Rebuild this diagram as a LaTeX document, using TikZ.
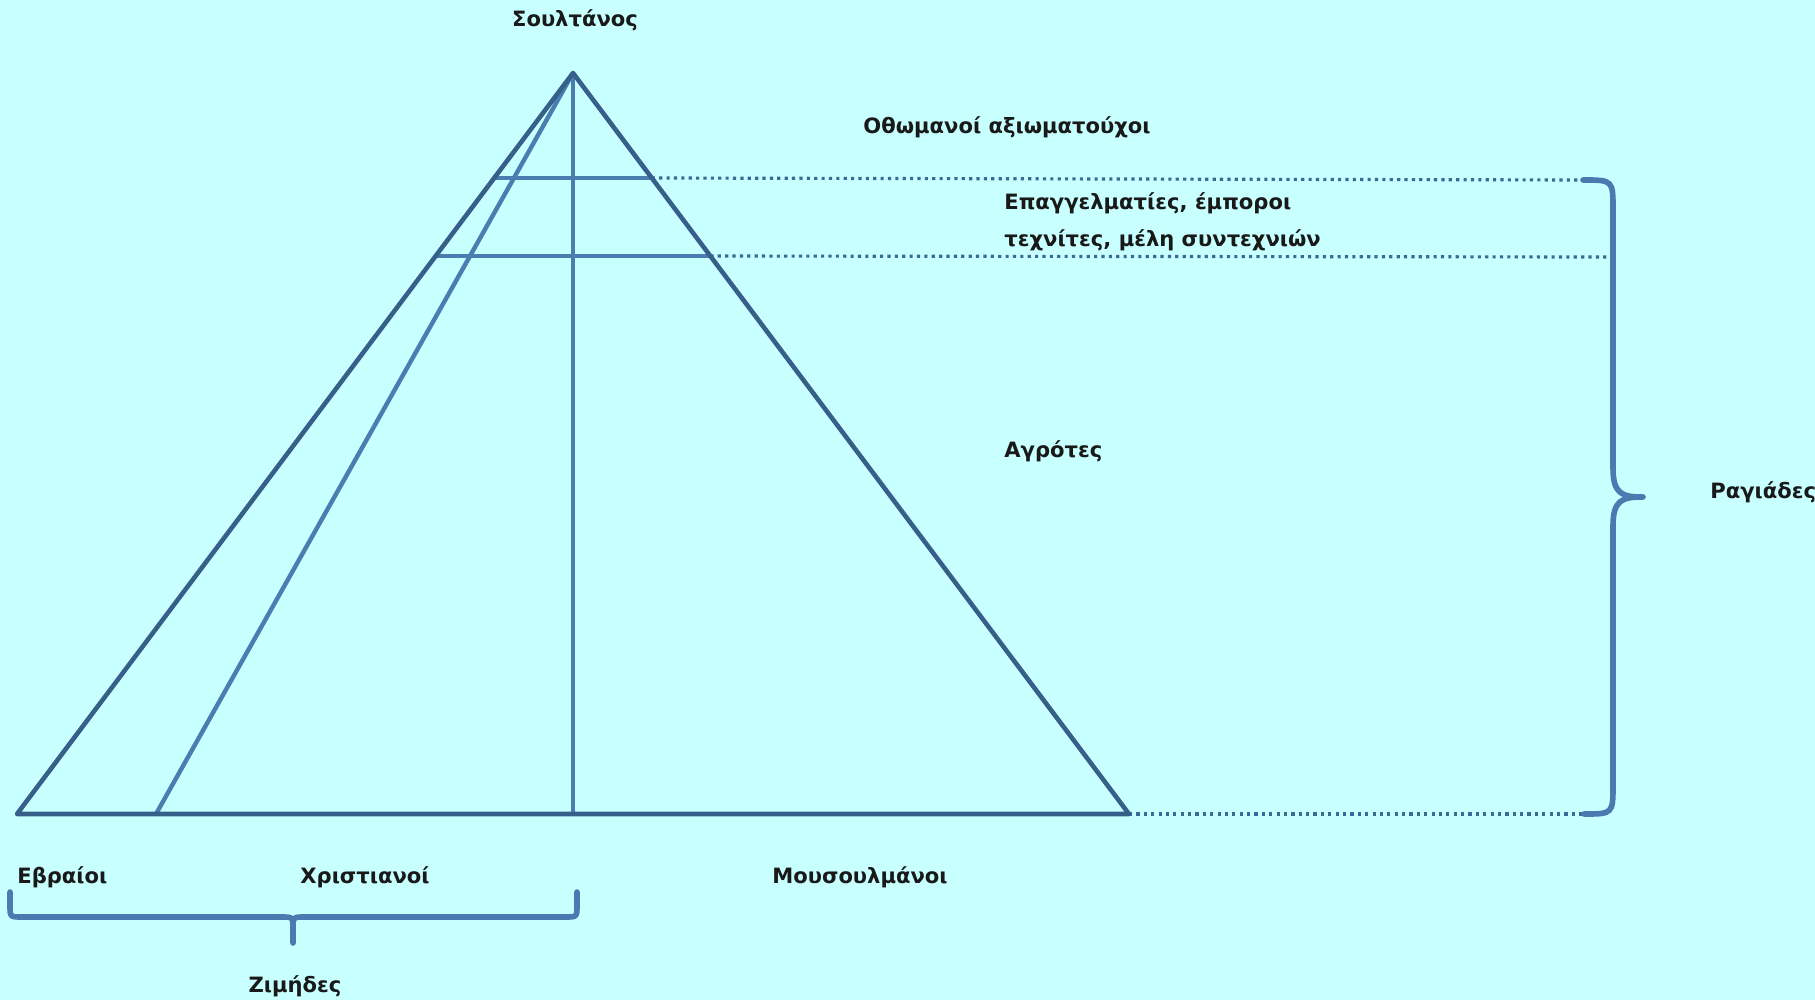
\documentclass[tikz,border=0pt]{standalone}
\usepackage{fontspec}
\setmainfont{DejaVu Sans}
\usetikzlibrary{calc}

\definecolor{bgcyan}{RGB}{200,255,255}
\definecolor{edgeblue}{RGB}{54,96,138}
\definecolor{lineblue}{RGB}{74,125,176}
\definecolor{braceblue}{RGB}{74,122,176}

\tikzset{
  edge/.style={draw=edgeblue, line width=2.6pt, line join=round},
  split/.style={draw=lineblue, line width=2.5pt},
  level/.style={draw=edgeblue!70!lineblue, line width=1.8pt, dash pattern=on 1.8pt off 2.4pt},
  bracket/.style={draw=braceblue, line width=3.2pt, line cap=round, line join=round},
  label/.style={font=\fontsize{12}{14}\selectfont\bfseries, text=black!90, inner sep=0pt}
}

\begin{document}
\begin{tikzpicture}[x=0.02cm, y=-0.02cm]

\fill [bgcyan] (0,0) rectangle (1815,1000);
\useasboundingbox (0,0) rectangle (1815,1000);

\coordinate (apex) at (573,73);
\coordinate (bl) at (17,814);
\coordinate (br) at (1129,814);
\coordinate (bi) at (156,814);
\coordinate (bm) at (573,814);

\coordinate (l1) at ($(apex)!0.1417!(bl)$);
\coordinate (r1) at ($(apex)!0.1417!(br)$);
\coordinate (l2) at ($(apex)!0.247!(bl)$);
\coordinate (r2) at ($(apex)!0.247!(br)$);

% levels of the pyramid
\draw [level] (r1) -- (1583,180);
\draw [level] (r2) -- (1613,257);
\draw [level] (br) -- (1584,814);

\draw [split] (apex) -- (bi);
\draw [split] (apex) -- (bm);
\draw [split] (l1) -- (r1);
\draw [split] (l2) -- (r2);

\draw [edge] (bl) -- (apex) -- (br) -- cycle;

% braces
\draw [bracket] (1583,180) .. controls (1613,180) .. (1613,210) -- (1613,468)
  .. controls (1613,494) and (1622,497) .. (1643,497)
  .. controls (1622,497) and (1613,500) .. (1613,526) -- (1613,784)
  .. controls (1613,814) .. (1584,814);

\draw [bracket] (10,892) -- (10,905) .. controls (10,917) .. (22,917) -- (281,917)
  .. controls (293,917) .. (293,929) -- (293,943);
\draw [bracket] (293,929) .. controls (293,917) .. (305,917) -- (565,917)
  .. controls (577,917) .. (577,905) -- (577,892);

\node [label] (sultan) at (575,20) {Σουλτάνος};
\node [label] (officials) at (1007,127) {Οθωμανοί αξιωματούχοι};
\node [label, anchor=west] (traders) at (1004,203) {Επαγγελματίες, έμποροι};
\node [label, anchor=west] (crafts) at (1004,240) {τεχνίτες, μέλη συντεχνιών};
\node [label, anchor=west] (farmers) at (1004,451) {Αγρότες};
\node [label, anchor=west] (rayas) at (1710,492) {Ραγιάδες};
\node [label, anchor=west] (jews) at (17,877) {Εβραίοι};
\node [label] (christians) at (365,877) {Χριστιανοί};
\node [label] (muslims) at (860,877) {Μουσουλμάνοι};
\node [label] (zimmis) at (295,986) {Ζιμήδες};

\end{tikzpicture}
\end{document}
